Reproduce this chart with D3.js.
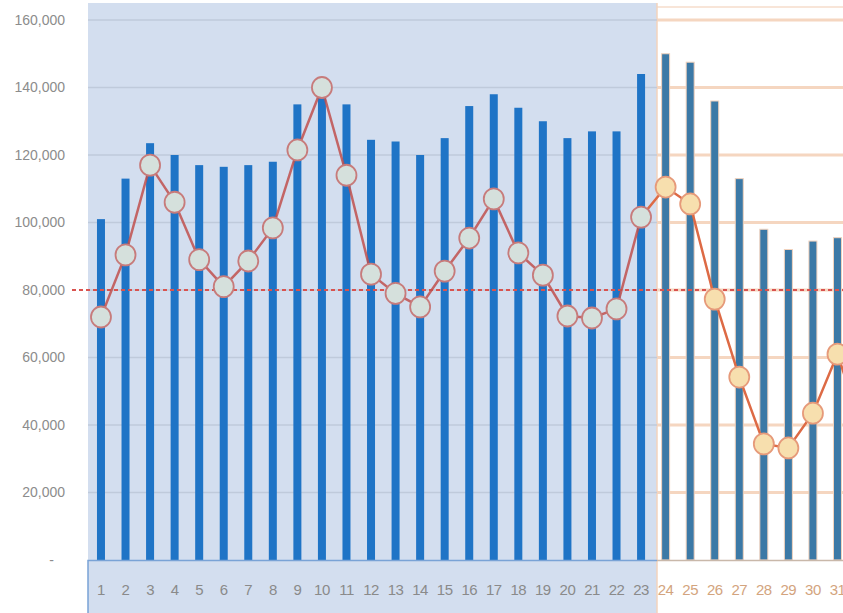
<!DOCTYPE html>
<html>
<head>
<meta charset="utf-8">
<script src="https://cdn.jsdelivr.net/npm/d3@7"></script>
<style>
    body { margin: 0; background: #fff; }
    svg { display: block; font-family: 'Liberation Sans', Arial, sans-serif; }
    .y.axis text { fill: #8c8c8c; font-size: 14px; }
    .x.axis text { font-size: 15px; }
</style>
</head>
<body>
<svg id="chart" width="843" height="613"></svg>
<script>
(function(window) {
    'use strict';

    // days of the month (32nd runs off the right edge)
    var days = d3.range(1, 33);
    var labelDays = d3.range(1, 32);
    var actualDays = 23;   // days 1..23 actual, rest forecast

    var barValues = [
        101000, 113000, 123500, 120000, 117000, 116500, 117000, 118000,
        135000, 137000, 135000, 124500, 124000, 120000, 125000, 134500,
        138000, 134000, 130000, 125000, 127000, 127000, 144000, 150000,
        147500, 136000, 113000, 98000, 92000, 94500, 95500, 95000
    ];

    var lineValues = [
        72000, 90400, 117000, 106000, 89000, 81000, 88600, 98400,
        121500, 140000, 114000, 84700, 79000, 75000, 85600, 95400,
        107000, 91000, 84400, 72300, 71700, 74400, 101600, 110500,
        105500, 77300, 54200, 34400, 33200, 43500, 61000, 39000
    ];

    var yTicks = [0, 20000, 40000, 60000, 80000, 100000, 120000, 140000, 160000];
    var target = 80000;

    var W = 843, H = 613,
        left = 88.7, step = 24.55,
        split = 657;

    var svg = d3.select('#chart');

    var x = d3.scaleBand()
        .domain(days)
        .range([left, left + step * days.length])
        .padding(0);

    var y = d3.scaleLinear()
        .domain([0, 160000])
        .range([560, 20]);

    var cx = function(d) { return x(d) + x.bandwidth() / 2; };
    var isActual = function(d) { return d <= actualDays; };

    /******************************************************************
        backgrounds
     ******************************************************************/
    svg.append('rect')
        .attr('x', 88)
        .attr('y', 3)
        .attr('width', split - 88)
        .attr('height', H - 3)
        .attr('fill', '#d3deef');

    // forecast side grid (peach)
    svg.append('line')
        .attr('x1', split).attr('x2', W)
        .attr('y1', 7).attr('y2', 7)
        .attr('stroke', '#f6dccb')
        .attr('stroke-width', 1.5);

    svg.append('g')
        .selectAll('line')
        .data(yTicks.slice(1))
        .join('line')
            .attr('x1', split).attr('x2', W)
            .attr('y1', function(d) { return y(d); })
            .attr('y2', function(d) { return y(d); })
            .attr('stroke', '#f5d6c0')
            .attr('stroke-width', 3);

    svg.append('line')
        .attr('x1', split).attr('x2', split)
        .attr('y1', 3).attr('y2', H)
        .attr('stroke', '#f3d3bc')
        .attr('stroke-width', 1.5);

    // actual side grid
    svg.append('g')
        .selectAll('line')
        .data(yTicks.slice(1))
        .join('line')
            .attr('x1', 88).attr('x2', split)
            .attr('y1', function(d) { return y(d); })
            .attr('y2', function(d) { return y(d); })
            .attr('stroke', '#bfcadb')
            .attr('stroke-width', 1.5);

    /******************************************************************
        y axis
     ******************************************************************/
    var yAxis = d3.axisLeft(y)
        .tickValues(yTicks)
        .tickSize(0)
        .tickPadding(0)
        .tickFormat(function(d) { return d === 0 ? '-' : d3.format(',')(d); });

    svg.append('g')
        .attr('class', 'y axis')
        .attr('transform', 'translate(65,0)')
        .call(yAxis)
        .call(function(g) { g.select('.domain').remove(); });

    svg.select('.y.axis').selectAll('.tick')
        .filter(function(d) { return d === 0; })
        .select('text')
            .attr('dx', '-11');

    /******************************************************************
        bars
     ******************************************************************/
    var barW = 8;

    svg.append('g')
        .selectAll('rect')
        .data(days)
        .join('rect')
            .attr('x', function(d) { return cx(d) - barW / 2; })
            .attr('y', function(d, i) { return y(barValues[i]); })
            .attr('width', barW)
            .attr('height', function(d, i) { return y(0) - y(barValues[i]); })
            .attr('fill', function(d) { return isActual(d) ? '#1f74c6' : '#3c79a6'; })
            .attr('stroke', function(d) { return isActual(d) ? 'none' : '#f1d2bd'; })
            .attr('stroke-width', 1);

    /******************************************************************
        x axis band
     ******************************************************************/
    svg.append('path')
        .attr('d', 'M88 ' + H + ' L88 560.5 L' + split + ' 560.5')
        .attr('fill', 'none')
        .attr('stroke', '#7aa3d6')
        .attr('stroke-width', 1.5);

    svg.append('line')
        .attr('x1', split).attr('x2', W)
        .attr('y1', 560.5).attr('y2', 560.5)
        .attr('stroke', '#c9b8aa')
        .attr('stroke-width', 1.5);

    var xAxis = d3.axisBottom(x)
        .tickValues(labelDays)
        .tickSize(0)
        .tickPadding(0);

    svg.append('g')
        .attr('class', 'x axis')
        .attr('transform', 'translate(0,590)')
        .call(xAxis)
        .call(function(g) { g.select('.domain').remove(); })
        .selectAll('text')
            .attr('fill', function(d) { return isActual(d) ? '#8a8a8a' : '#d3a47e'; })
            .attr('dy', '0.35em')
            .style('letter-spacing', '-0.5px');

    /******************************************************************
        target line
     ******************************************************************/
    svg.append('line')
        .attr('x1', 72).attr('x2', W)
        .attr('y1', y(target)).attr('y2', y(target))
        .attr('stroke', '#d9534f')
        .attr('stroke-width', 1.8)
        .attr('stroke-dasharray', '4,3');

    /******************************************************************
        line + markers
     ******************************************************************/
    var pts = days.map(function(d, i) { return [cx(d), y(lineValues[i]), d]; });

    var line = d3.line();

    svg.append('path')
        .attr('d', line(pts.slice(0, actualDays)))
        .attr('fill', 'none')
        .attr('stroke', '#c0504d')
        .attr('stroke-width', 2.5)
        .attr('opacity', 0.85);

    svg.append('path')
        .attr('d', line(pts.slice(actualDays - 1)))
        .attr('fill', 'none')
        .attr('stroke', '#dd6a45')
        .attr('stroke-width', 2.5);

    svg.append('g')
        .selectAll('ellipse')
        .data(pts)
        .join('ellipse')
            .attr('cx', function(p) { return p[0]; })
            .attr('cy', function(p) { return p[1]; })
            .attr('rx', 10)
            .attr('ry', 10.5)
            .attr('fill', function(p) { return isActual(p[2]) ? '#d5e0dc' : '#f7dfae'; })
            .attr('stroke', function(p) { return isActual(p[2]) ? '#c77b7b' : '#e69a7a'; })
            .attr('stroke-width', 1.8);

    window.CHART = { x: x, y: y };
})(window);
</script>
</body>
</html>
